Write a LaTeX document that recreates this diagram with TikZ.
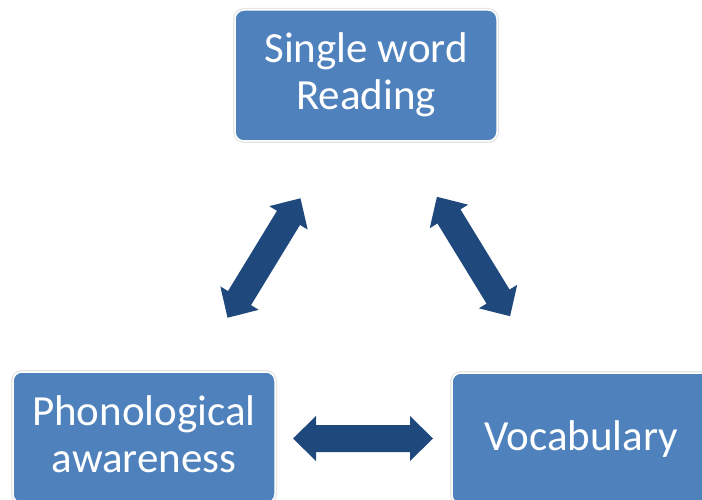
\documentclass[tikz,border=0pt]{standalone}
\usepackage{fontspec}
\setmainfont{Carlito}
\definecolor{boxblue}{HTML}{4F81BD}
\definecolor{arrowblue}{HTML}{1F497D}
\tikzset{
  box/.style={rounded corners=9pt, fill=boxblue, draw=white, line width=1.5pt,
    preaction={draw=black!10, line width=4pt},
    minimum width=262pt, minimum height=131pt, inner sep=0pt},
  lbl/.style={text=white, font=\fontsize{43}{47}\selectfont, align=center, inner sep=0pt},
  pics/dblarrow/.style={code={
    \fill[arrowblue] (-70,0) -- (-47,-22.5) -- (-47,-13.5) -- (47,-13.5) -- (47,-22.5)
      -- (70,0) -- (47,22.5) -- (47,13.5) -- (-47,13.5) -- (-47,22.5) -- cycle;}}
}
\begin{document}
\begin{tikzpicture}[x=1pt,y=-1pt]
\useasboundingbox (0,0) rectangle (702,500);
\clip (0,0) rectangle (702,500);
\node[box] (read) at (366,75.5) {};
\node[box] (phon) at (144,437.5) {};
\node[box] (voc) at (583,438.5) {};
\node[lbl, anchor=base] (readt) at (366,110) {Single word\\Reading};
\node[lbl, anchor=base] (phont) at (144,472) {Phonological\\awareness};
\node[lbl, anchor=base] (voct) at (581,450) {Vocabulary};
\pic[rotate=58.6] (a1) at (264,258) {dblarrow};
\pic[rotate=-58.5] (a2) at (473.5,256.5) {dblarrow};
\pic (a3) at (363,438.5) {dblarrow};
\end{tikzpicture}
\end{document}
